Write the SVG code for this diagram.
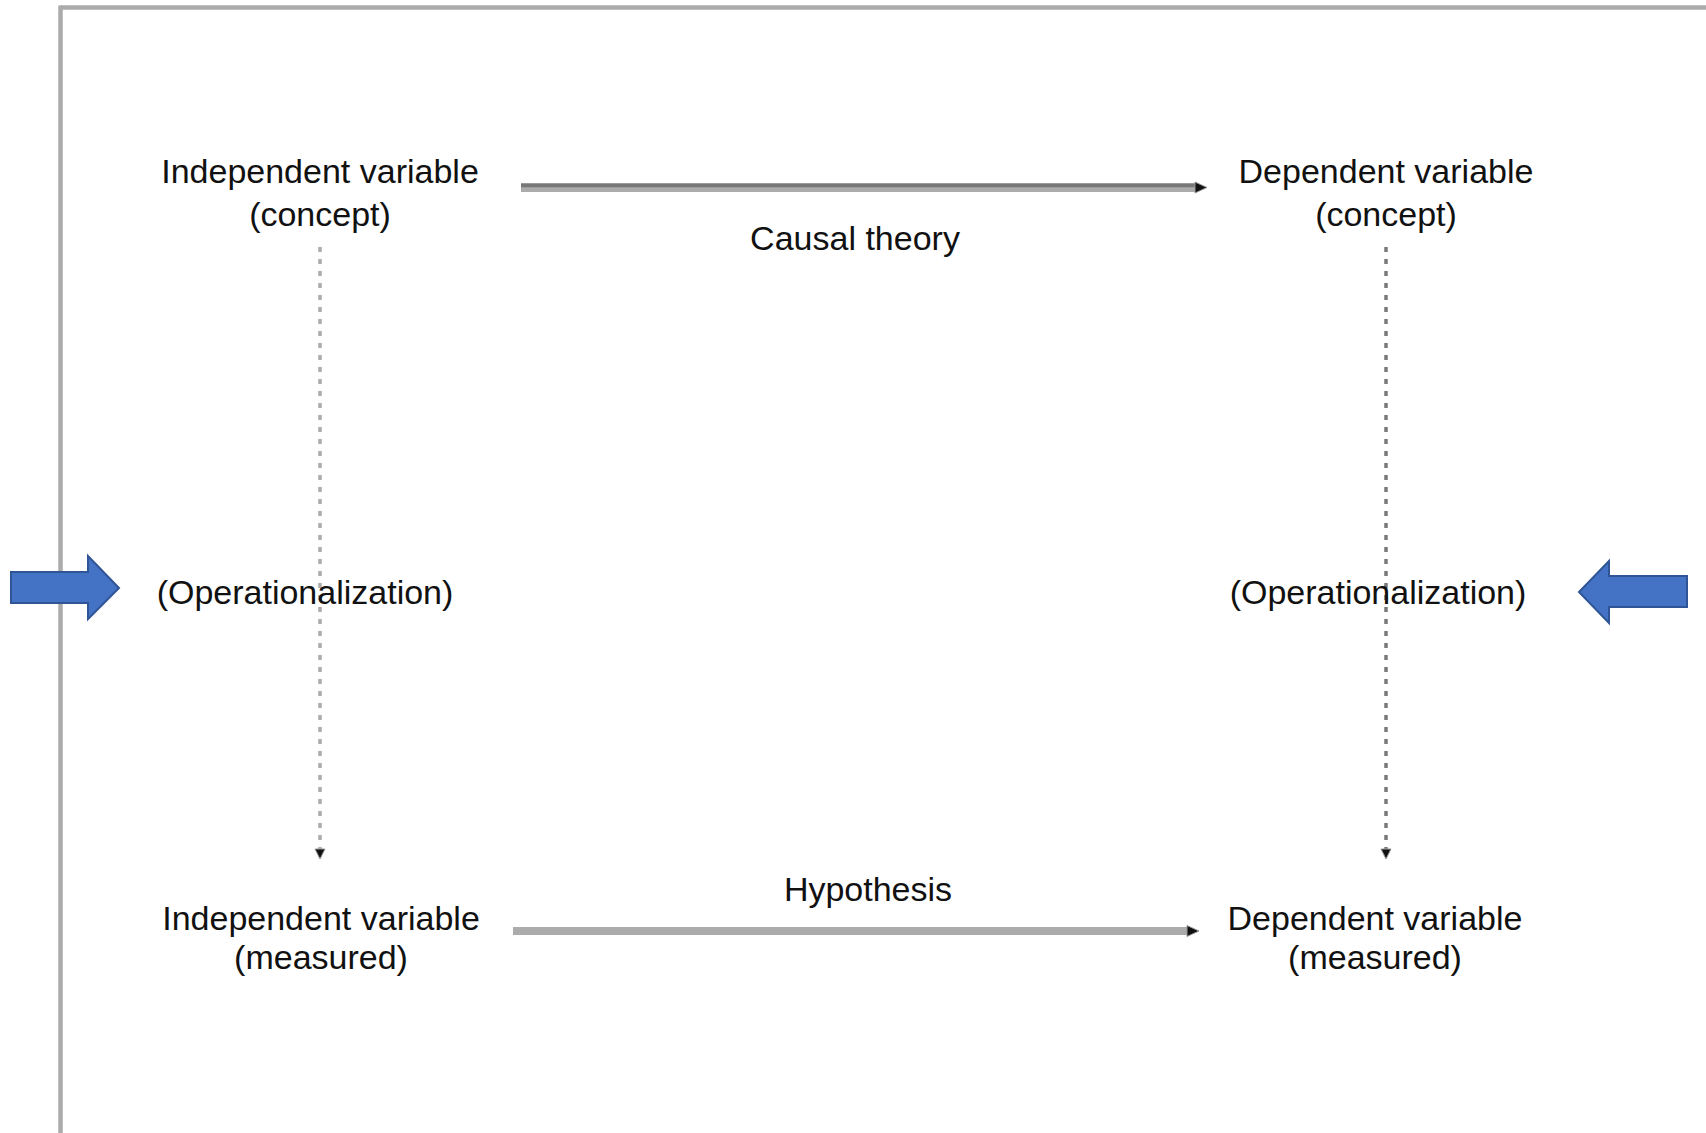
<svg xmlns="http://www.w3.org/2000/svg" width="1706" height="1133" viewBox="0 0 1706 1133">
<style>
  .t { font-family: "Liberation Sans", Arial, sans-serif; font-size: 34px; fill: #111; text-anchor: middle; }
  .frame { stroke: #ababab; stroke-width: 4.5; fill: none; }
  .dashL { stroke: #ababab; stroke-width: 3.5; stroke-dasharray: 5 7; fill: none; }
  .dashR { stroke: #7a7a7a; stroke-width: 3.5; stroke-dasharray: 5 7; fill: none; }
  .blue { fill: #4472C4; stroke: #2F5597; stroke-width: 2; }
  .head { fill: #111; stroke: #999; stroke-width: 1; }
</style>
<rect width="1706" height="1133" fill="#ffffff"/>
<g id="frame">
  <line class="frame" x1="60.5" y1="7.5" x2="1706" y2="7.5"/>
  <line class="frame" x1="60.5" y1="5.5" x2="60.5" y2="1133"/>
</g>
<g id="connectors">
  <line x1="521" y1="185.5" x2="1195" y2="185.5" stroke="#777777" stroke-width="4.4"/>
  <line x1="521" y1="189.8" x2="1195" y2="189.8" stroke="#ababab" stroke-width="4.3"/>
  <polygon class="head" points="1195,182 1207,187.5 1195,193"/>
  <line x1="513" y1="931" x2="1187" y2="931" stroke="#ababab" stroke-width="8"/>
  <polygon class="head" points="1187,925.5 1199,931 1187,936.5"/>
  <line class="dashL" x1="320" y1="247" x2="320" y2="849"/>
  <polygon class="head" points="315,849 325,849 320,859"/>
  <line class="dashR" x1="1386" y1="247" x2="1386" y2="849"/>
  <polygon class="head" points="1381,849 1391,849 1386,859"/>
</g>
<g id="blue-arrow-left">
  <polygon class="blue" points="11,572 88,572 88,556 119,588 88,619 88,603 11,603"/>
</g>
<g id="blue-arrow-right">
  <polygon class="blue" points="1687,576 1609,576 1609,561 1579,592 1609,623 1609,607 1687,607"/>
</g>
<g id="iv-concept">
  <text class="t" x="320" y="183">Independent variable</text>
  <text class="t" x="320" y="226">(concept)</text>
</g>
<g id="dv-concept">
  <text class="t" x="1386" y="183">Dependent variable</text>
  <text class="t" x="1386" y="226">(concept)</text>
</g>
<g id="causal-theory">
  <text class="t" x="855" y="250">Causal theory</text>
</g>
<g id="op-left">
  <text class="t" x="305" y="604">(Operationalization)</text>
</g>
<g id="op-right">
  <text class="t" x="1378" y="604">(Operationalization)</text>
</g>
<g id="hypothesis">
  <text class="t" x="868" y="901">Hypothesis</text>
</g>
<g id="iv-measured">
  <text class="t" x="321" y="930">Independent variable</text>
  <text class="t" x="321" y="969">(measured)</text>
</g>
<g id="dv-measured">
  <text class="t" x="1375" y="930">Dependent variable</text>
  <text class="t" x="1375" y="969">(measured)</text>
</g>
</svg>
